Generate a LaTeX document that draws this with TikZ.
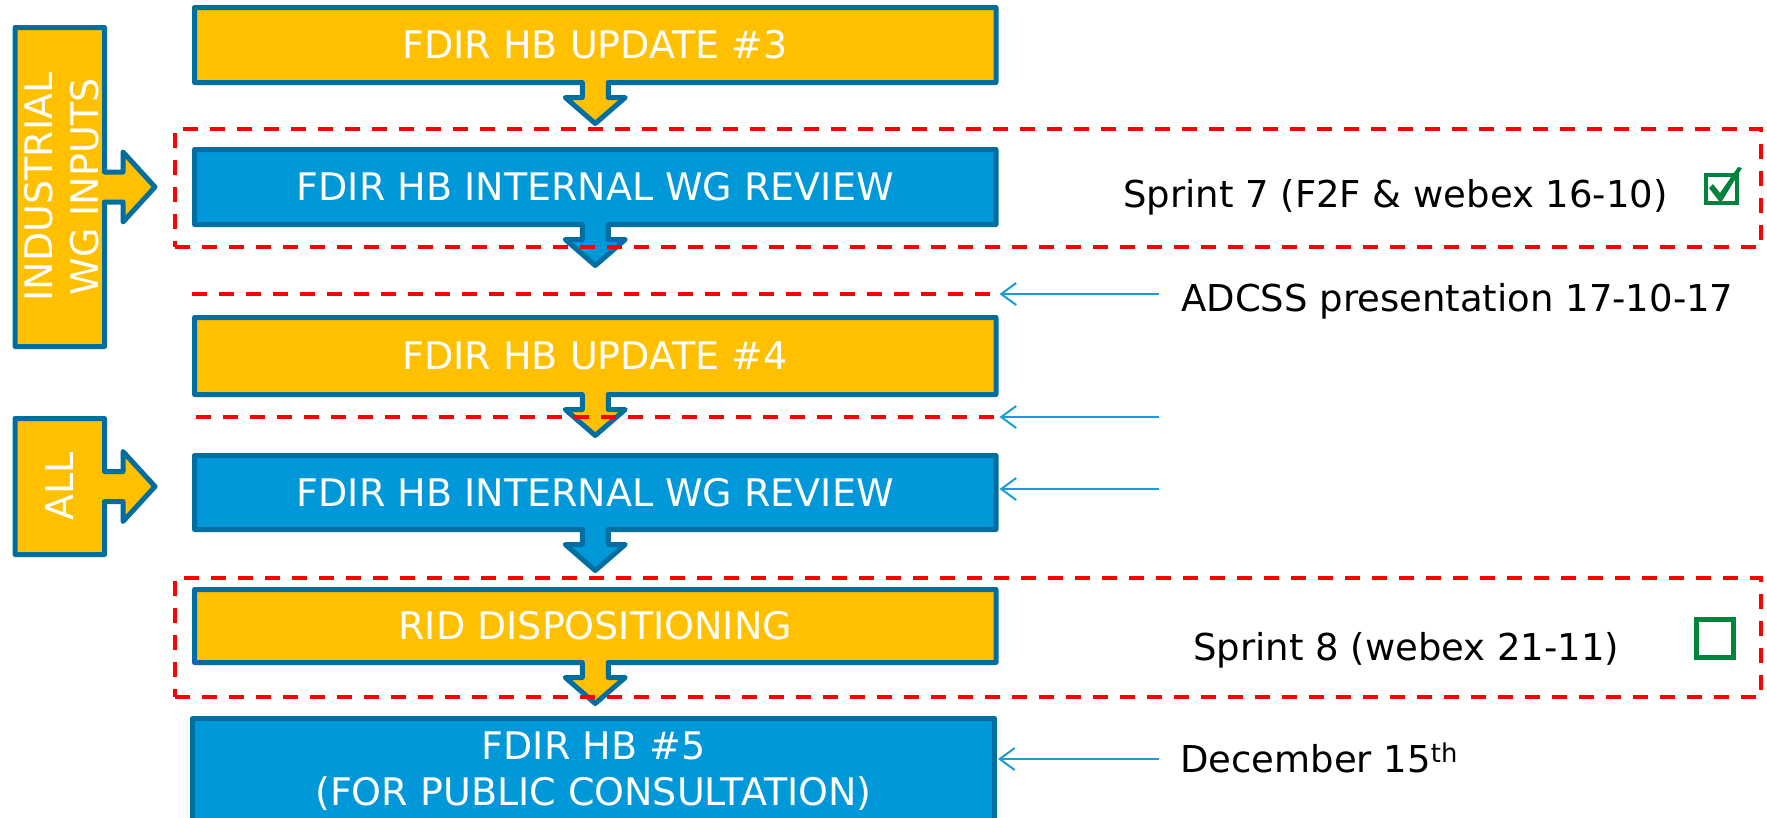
\documentclass[tikz,border=0pt]{standalone}
\usepackage{fontspec}
\setmainfont{DejaVu Sans}
\usetikzlibrary{calc,arrows.meta,backgrounds}
\definecolor{cyel}{HTML}{FFC000}
\definecolor{cblu}{HTML}{0098D8}
\definecolor{cout}{HTML}{006EA0}
\definecolor{cred}{HTML}{FF0000}
\definecolor{carr}{HTML}{1B9BD7}
\definecolor{cgrn}{HTML}{00843D}
\newcommand\bxfont{\fontsize{38}{45.5}\selectfont}
\newcommand\rtfont{\fontsize{37}{44}\selectfont}
\newcommand\dcallout[2]{%
  \filldraw[outl, fill=#2] (#1.north west) -- (#1.north east) -- (#1.south east)
    -- ($(#1.south)+(13,0)$) -- ++(0,15) -- ++(17,0) -- ($(#1.south)+(0,41)$)
    -- ($(#1.south)+(-30,15)$) -- ++(17,0) -- ($(#1.south)+(-13,0)$)
    -- (#1.south west) -- cycle;}
\newcommand\rcallout[2]{%
  \filldraw[outl, fill=#2] (#1.north west) -- (#1.north east)
    -- ($(#1.east)+(0,-15)$) -- ++(18.5,0) -- ++(0,-20) -- ($(#1.east)+(50.5,0)$)
    -- ($(#1.east)+(18.5,35)$) -- ++(0,-20) -- ($(#1.east)+(0,15)$)
    -- (#1.south east) -- (#1.south west) -- cycle;}
\begin{document}
\begin{tikzpicture}[x=1pt,y=-1pt,
  outl/.style={draw=cout, line width=5pt, line join=round},
  boxnode/.style={inner sep=0pt, outer sep=0pt, text=white, font=\bxfont, minimum width=801.5pt},
  rottxt/.style={inner sep=0pt, rotate=90, align=center, text=white, font=\bxfont},
  sidebox/.style={inner sep=0pt, outer sep=0pt, minimum width=89.5pt},
  grp/.style={draw=cred, line width=4pt, dash pattern=on 15pt off 12pt, inner sep=0pt, minimum width=1586pt},
  reddash/.style={draw=cred, line width=4pt, dash pattern=on 15pt off 12pt},
  ann/.style={draw=carr, line width=2pt, -{Straight Barb[length=15pt,width=22pt]}},
  rt/.style={inner sep=0pt, font=\rtfont, text=black, anchor=base west}]
\useasboundingbox (0,0) rectangle (1767,817);
\clip (0,0) rectangle (1767,817);
% main boxes
\node[boxnode, minimum height=75pt] (b1) at (595.25,45) {FDIR HB UPDATE \#3};
\node[boxnode, minimum height=75pt] (b2) at (595.25,187) {FDIR HB INTERNAL WG REVIEW};
\node[boxnode, minimum height=77pt] (b3) at (595.25,356) {FDIR HB UPDATE \#4};
\node[boxnode, minimum height=74pt] (b4) at (595.25,492.5) {FDIR HB INTERNAL WG REVIEW};
\node[boxnode, minimum height=73pt] (b5) at (595.25,626) {RID DISPOSITIONING};
\node[boxnode, minimum width=802pt, minimum height=131pt] (b6) at (593.5,784) {};
\node[boxnode, minimum width=0pt, align=center, anchor=base] (t6) at (593.5,805) {FDIR HB \#5\\(FOR PUBLIC CONSULTATION)};
% side boxes
\node[sidebox, minimum height=319pt] (L1) at (59.75,187) {};
\node[sidebox, minimum height=136pt] (L2) at (59.75,486.5) {};
\node[rottxt] (tind) at (61.75,187) {INDUSTRIAL\\WG INPUTS};
\node[rottxt] (tall) at (60,486) {ALL};
\begin{pgfonlayer}{background}
  \dcallout{b1}{cyel}
  \dcallout{b2}{cblu}
  \dcallout{b3}{cyel}
  \dcallout{b4}{cblu}
  \dcallout{b5}{cyel}
  \filldraw[outl, fill=cblu] (b6.north west) rectangle (b6.south east);
  \rcallout{L1}{cyel}
  \rcallout{L2}{cyel}
\end{pgfonlayer}
% red dashed groups and lines
\node[grp, minimum height=118pt] (g1) at (968,188) {};
\node[grp, minimum height=119pt] (g2) at (968,637.5) {};
\coordinate (d1w) at (192,294);
\coordinate (d1e) at (996,294);
\coordinate (d2w) at (196,417);
\coordinate (d2e) at (996,417);
\draw[reddash] (d1w) -- (d1e);
\draw[reddash] (d2w) -- (d2e);
% annotations
\node[rt] (s7) at (1123,207) {Sprint 7 (F2F \& webex 16-10)};
\node[rt] (adc) at (1181,311) {ADCSS presentation 17-10-17};
\node[rt] (s8) at (1193,660) {Sprint 8 (webex 21-11)};
\node[rt] (dec) at (1180,772) {December 15\textsuperscript{th}};
\coordinate (a1) at (1159,294);
\coordinate (a2) at (1159,417);
\coordinate (a3) at (1159,489);
\coordinate (a4) at (1159,759);
\draw[ann] (a1) -- ($(d1e)+(3.5,0)$);
\draw[ann] (a2) -- ($(d2e)+(3.5,0)$);
\draw[ann] (a3) -- ($(a3 -| b4.east)+(3.5,0)$);
\draw[ann] (a4) -- ($(a4 -| b6.east)+(3.5,0)$);
% check boxes
\node[draw=cgrn, line width=4pt, inner sep=0pt, minimum width=31pt, minimum height=28pt] (cb1) at (1721.5,189) {};
\fill[cgrn] (1709,188) -- (1713,184) -- (1720,193) -- (1738,167) -- (1742,168) -- (1722,201) -- (1719,201) -- cycle;
\node[draw=cgrn, line width=5pt, inner sep=0pt, minimum width=37pt, minimum height=38pt] (cb2) at (1715,638.5) {};
\end{tikzpicture}
\end{document}
